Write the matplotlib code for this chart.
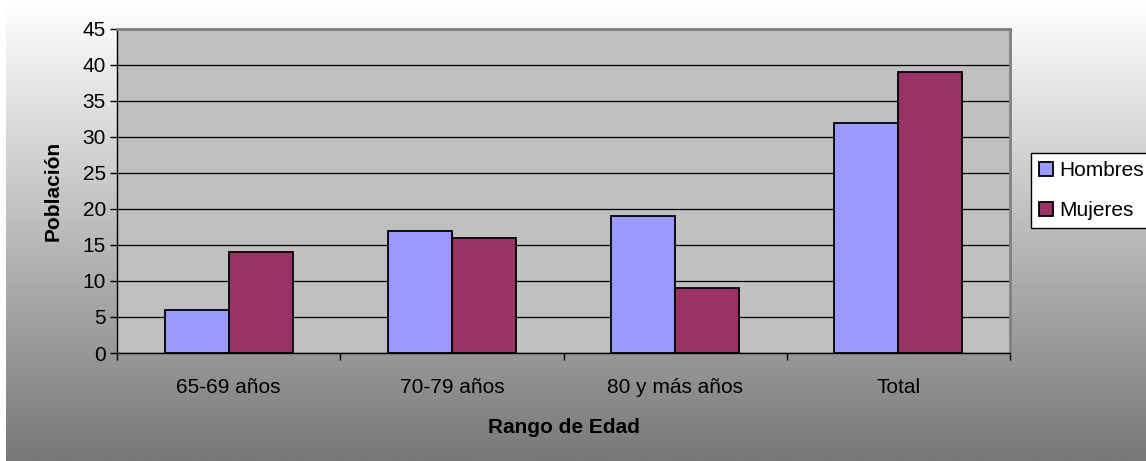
import numpy as np
import matplotlib
matplotlib.use('Agg')
import matplotlib.pyplot as plt

plt.rcParams['font.family'] = ['Liberation Sans', 'DejaVu Sans']

# Población por rango de edad y sexo
categorias = ['65-69 años', '70-79 años', '80 y más años', 'Total']
hombres = [6, 17, 19, 32]
mujeres = [14, 16, 9, 39]

W, H = 1146, 461
fs = 15
fig = plt.figure(figsize=(W / 100, H / 100), dpi=100, facecolor='white')

# Fondo con degradado de blanco a gris
bg = fig.add_axes([6 / W, 0, 1 - 6 / W, (H - 6) / H], zorder=-10)
grad = np.linspace(0.995, 0.47, 256).reshape(-1, 1)
bg.imshow(grad, aspect='auto', cmap='gray', vmin=0, vmax=1,
          extent=[0, 1, 0, 1], interpolation='bicubic')
bg.set_axis_off()

ax = fig.add_axes([117 / W, (H - 353) / H, 893 / W, 324 / H])
ax.set_facecolor('#C0C0C0')

x = np.arange(len(categorias))
ancho = 0.287
ax.bar(x - ancho / 2, hombres, ancho, color='#9999FF', edgecolor='black',
       linewidth=1.3, label='Hombres', zorder=3)
ax.bar(x + ancho / 2, mujeres, ancho, color='#993366', edgecolor='black',
       linewidth=1.3, label='Mujeres', zorder=3)

ax.set_xlim(-0.5, len(categorias) - 0.5)
ax.set_ylim(0, 45)
ax.set_yticks(range(0, 46, 5))
ax.yaxis.grid(True, color='black', linewidth=0.9, zorder=1)
ax.set_axisbelow(True)

ax.set_xticks(x)
ax.set_xticklabels(categorias, fontsize=fs)
ax.set_xticks(np.arange(-0.5, len(categorias)), minor=True)
ax.tick_params(axis='x', which='major', length=0, pad=18)
ax.tick_params(axis='x', which='minor', length=5, width=1, color='black')
ax.tick_params(axis='y', length=5, width=1, labelsize=fs, pad=3)

for lado in ['top', 'right']:
    ax.spines[lado].set_color('#808080')
    ax.spines[lado].set_linewidth(2)
for lado in ['left', 'bottom']:
    ax.spines[lado].set_color('black')
    ax.spines[lado].set_linewidth(1)

ax.set_ylabel('Población', fontsize=fs, fontweight='bold', labelpad=14)
ax.set_xlabel('Rango de Edad', fontsize=fs, fontweight='bold', labelpad=15)

fig.legend(loc='upper left', bbox_to_anchor=(1031 / W, (H - 153) / H),
           fontsize=fs, frameon=True, fancybox=False, edgecolor='black',
           framealpha=1, handlelength=0.65, handleheight=0.65, handletextpad=0.3,
           labelspacing=1.0, borderpad=0.4, borderaxespad=0)

fig.savefig('out.png', dpi=100, facecolor='white')
